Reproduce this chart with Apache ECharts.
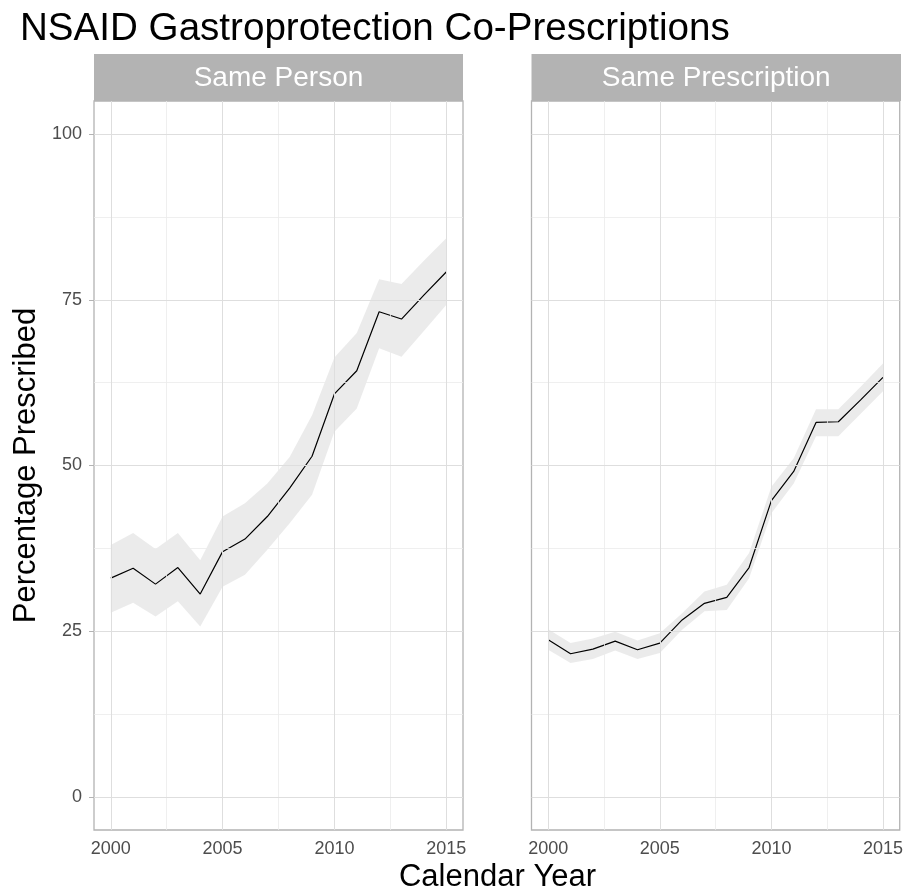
<!DOCTYPE html>
<html>
<head>
<meta charset="utf-8">
<script src="https://cdn.jsdelivr.net/npm/echarts@6/dist/echarts.min.js"></script>
<style>
html,body{margin:0;padding:0;background:#fff;}
#chart{width:906px;height:892px;}
</style>
</head>
<body>
<div id="chart"></div>
<script>
// ---- data ----
const years = [2000,2001,2002,2003,2004,2005,2006,2007,2008,2009,2010,2011,2012,2013,2014,2015];
const panelNames = ['Same Person', 'Same Prescription'];
const personMean  = [33.0,34.5,32.1,34.6,30.6,37.0,38.9,42.3,46.6,51.4,60.8,64.3,73.2,72.1,75.7,79.2];
const personLower = [27.8,29.3,27.2,29.5,25.7,31.7,33.5,37.3,41.3,45.6,55.1,58.6,67.7,66.4,70.3,74.2];
const personUpper = [38.0,39.8,37.4,39.8,35.7,42.3,44.3,47.3,51.3,57.6,66.3,70.0,78.1,77.4,80.9,84.3];
const rxMean  = [23.7,21.6,22.3,23.5,22.2,23.2,26.7,29.2,30.1,34.6,44.7,49.1,56.5,56.6,59.9,63.3];
const rxLower = [22.2,20.2,20.8,22.1,20.8,21.7,25.2,28.0,28.2,33.0,42.8,47.3,54.4,54.4,57.8,61.2];
const rxUpper = [25.3,23.2,23.9,24.9,23.6,24.7,27.7,31.0,32.0,36.8,46.8,51.1,58.5,58.5,61.9,65.4];
const xMajor = [2000,2005,2010,2015];
const xMinor = [2002.5,2007.5,2012.5];
const yMajor = [0,25,50,75,100];
const yMinor = [12.5,37.5,62.5,87.5];

// ---- layout ----
const FONT = '"Liberation Sans", Arial, Helvetica, sans-serif';
const panels = [
  {left: 94, width: 369},
  {left: 531.5, width: 369.5}
];
const TOP = 101, BOTTOM_Y = 830, STRIP_TOP = 54;
const H = BOTTOM_Y - TOP;

const chart = echarts.init(document.getElementById('chart'), null, {renderer: 'canvas'});

function ribbon(idx, lower, upper) {
  return {
    type: 'custom',
    xAxisIndex: idx, yAxisIndex: idx,
    silent: true, z: 3,
    data: years.map((y, i) => [y, lower[i], upper[i]]),
    renderItem: function (params, api) {
      if (params.dataIndex !== 0) return null;
      const pts = [];
      for (let i = 0; i < years.length; i++) pts.push(api.coord([years[i], upper[i]]));
      for (let i = years.length - 1; i >= 0; i--) pts.push(api.coord([years[i], lower[i]]));
      return {type: 'polygon', shape: {points: pts}, style: {fill: 'rgba(153,153,153,0.2)', stroke: null}};
    }
  };
}

function gridSeries(idx) {
  const ml = (vals, axis, color, w) => vals.map(v => ({[axis]: v, lineStyle: {color: color, width: w, type: 'solid'}}));
  return {
    type: 'line', xAxisIndex: idx, yAxisIndex: idx, silent: true, z: 1,
    data: years.map((y, i) => [y, personMean[i]]),
    lineStyle: {opacity: 0}, showSymbol: false, symbol: 'none',
    markLine: {
      silent: true, symbol: ['none', 'none'], label: {show: false}, animation: false,
      data: [].concat(
        ml(xMinor, 'xAxis', '#EBEBEB', 0.8),
        ml(yMinor, 'yAxis', '#EBEBEB', 0.8),
        ml(xMajor, 'xAxis', '#DEDEDE', 1),
        ml(yMajor, 'yAxis', '#DEDEDE', 1)
      )
    }
  };
}

function lineSeries(idx, mean) {
  return {
    type: 'line', xAxisIndex: idx, yAxisIndex: idx, z: 4,
    data: years.map((y, i) => [y, mean[i]]),
    showSymbol: false, symbol: 'none',
    lineStyle: {color: '#000', width: 1.2},
    silent: true
  };
}

const grids = panels.map(p => ({
  left: p.left, top: TOP, width: p.width, height: H,
  show: true, borderColor: '#B3B3B3', borderWidth: 1.3, backgroundColor: 'transparent'
}));

const xAxes = panels.map((p, i) => ({
  type: 'value', gridIndex: i, min: 1999.25, max: 2015.75,
  axisLine: {show: false},
  splitLine: {show: false},
  axisTick: {show: true, customValues: xMajor, length: 5, lineStyle: {color: '#B3B3B3', width: 1}},
  axisLabel: {show: true, customValues: xMajor, color: '#4D4D4D', fontSize: 18, fontFamily: FONT, margin: 10,
              formatter: v => String(v)}
}));

const yAxes = panels.map((p, i) => ({
  type: 'value', gridIndex: i, min: -5, max: 105,
  axisLine: {show: false},
  splitLine: {show: false},
  axisTick: {show: i === 0, customValues: yMajor, length: 5, lineStyle: {color: '#B3B3B3', width: 1}},
  axisLabel: {show: i === 0, customValues: yMajor, color: '#4D4D4D', fontSize: 18, fontFamily: FONT, margin: 12,
              formatter: v => String(v)},
  name: i === 0 ? 'Percentage Prescribed' : '',
  nameLocation: 'middle', nameGap: 52, nameRotate: 90,
  nameTextStyle: {color: '#000', fontSize: 31, fontFamily: FONT}
}));

const graphics = [];
panels.forEach((p, i) => {
  graphics.push({
    type: 'rect', left: p.left, top: STRIP_TOP,
    shape: {width: p.width, height: TOP - STRIP_TOP},
    style: {fill: '#B3B3B3'}, silent: true
  });
  graphics.push({
    type: 'text', x: p.left + p.width / 2, y: (STRIP_TOP + TOP) / 2 + 1,
    style: {text: panelNames[i], fill: '#fff', font: '28px ' + FONT, textAlign: 'center', textVerticalAlign: 'middle'},
    silent: true
  });
});
graphics.push({
  type: 'text', x: (panels[0].left + panels[1].left + panels[1].width) / 2, y: 877,
  style: {text: 'Calendar Year', fill: '#000', font: '31px ' + FONT, textAlign: 'center', textVerticalAlign: 'middle'},
  silent: true
});

chart.setOption({
  animation: false,
  backgroundColor: '#fff',
  title: {
    text: 'NSAID Gastroprotection Co-Prescriptions',
    left: 15, top: 5,
    textStyle: {color: '#000', fontSize: 38.6, fontWeight: 'normal', fontFamily: FONT}
  },
  grid: grids,
  xAxis: xAxes,
  yAxis: yAxes,
  graphic: graphics,
  series: [
    gridSeries(0), gridSeries(1),
    ribbon(0, personLower, personUpper), ribbon(1, rxLower, rxUpper),
    lineSeries(0, personMean), lineSeries(1, rxMean)
  ]
});
</script>
</body>
</html>
